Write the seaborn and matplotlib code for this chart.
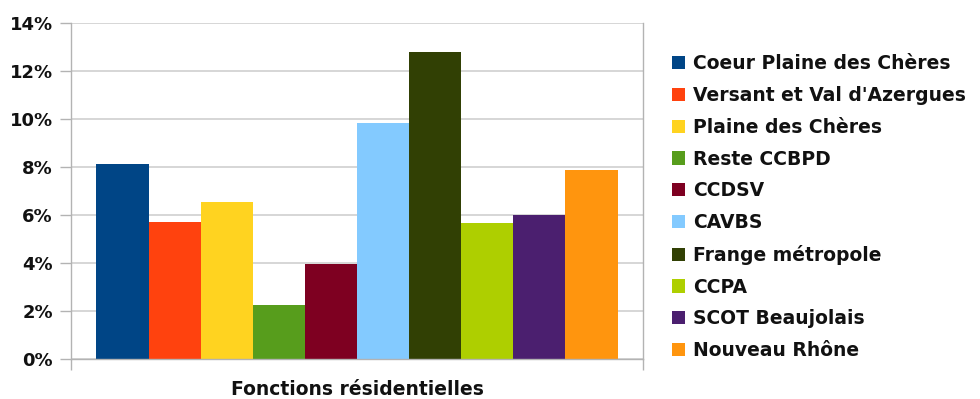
import matplotlib
matplotlib.use("Agg")
import matplotlib.pyplot as plt
import seaborn as sns
import pandas as pd
from matplotlib.ticker import FuncFormatter

categories = ["Fonctions résidentielles"]
series = ["Coeur Plaine des Chères", "Versant et Val d'Azergues", "Plaine des Chères",
          "Reste CCBPD", "CCDSV", "CAVBS", "Frange métropole", "CCPA",
          "SCOT Beaujolais", "Nouveau Rhône"]
values = [8.12, 5.72, 6.54, 2.25, 3.96, 9.83, 12.79, 5.67, 6.0, 7.87]
colors = ["#004586", "#ff420e", "#ffd320", "#579d1c", "#7e0021", "#83caff",
          "#314004", "#aecf00", "#4b1f6f", "#ff950e"]
yticks = [0, 2, 4, 6, 8, 10, 12, 14]

df = pd.DataFrame({"cat": categories * len(series), "serie": series, "val": values})

sns.set_theme(style="white")
plt.rcParams["font.family"] = ["DejaVu Sans"]
plt.rcParams["font.weight"] = "bold"

fig = plt.figure(figsize=(9.8, 3.99), dpi=100)
ax = fig.add_axes([0.0724, 0.1003, 0.5837, 0.8421])

sns.barplot(data=df, x="cat", y="val", hue="serie", hue_order=series,
            palette=colors, saturation=1, width=0.911, ax=ax, legend=True,
            linewidth=0, edgecolor="none")

ax.set_ylim(0, 14)
ax.set_xlim(-0.5, 0.5)
ax.set_yticks(yticks)
ax.yaxis.set_major_formatter(FuncFormatter(lambda v, p: f"{int(v)}%"))
ax.grid(axis="y", color="#d3d3d3", linewidth=1.3)
ax.set_axisbelow(True)
ax.spines["top"].set_visible(False)
for s in ["left", "right", "bottom"]:
    ax.spines[s].set_color("#b3b3b3")
    ax.spines[s].set_linewidth(1.0)

ax.tick_params(axis="y", which="major", left=True, direction="out", length=8, width=1,
               color="#b3b3b3", labelsize=13, pad=5, labelcolor="#111111")
ax.set_xticks([-0.5, 0.5])
ax.set_xticklabels(["", ""])
ax.tick_params(axis="x", which="major", bottom=True, direction="out", length=8,
               width=1, color="#b3b3b3")
ax.set_xticks([0], labels=categories, minor=True)
ax.tick_params(axis="x", which="minor", bottom=True, length=0, labelsize=13.5, pad=15,
               labelcolor="#111111")
for t in ax.get_yticklabels() + ax.get_xticklabels(minor=True):
    t.set_fontweight("bold")
ax.set_xlabel("")
ax.set_ylabel("")

handles, labels = ax.get_legend_handles_labels()
leg = ax.legend(handles, labels, loc="upper left", bbox_to_anchor=(0.686, 0.864),
                bbox_transform=fig.transFigure, frameon=False,
                handlelength=0.7, handleheight=0.7, handletextpad=0.43,
                labelspacing=0.68, borderaxespad=0, borderpad=0,
                prop={"weight": "bold", "size": 13.5})
for t in leg.get_texts():
    t.set_color("#111111")

fig.savefig("out.png", dpi=100)
